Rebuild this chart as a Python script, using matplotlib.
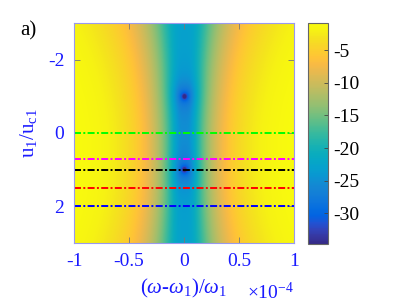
import numpy as np
import matplotlib
matplotlib.use('Agg')
import matplotlib.pyplot as plt
from matplotlib.colors import LinearSegmentedColormap

plt.rcParams['font.family'] = ['Liberation Serif', 'DejaVu Serif']
plt.rcParams['mathtext.fontset'] = 'custom'
plt.rcParams['mathtext.rm'] = 'Liberation Serif'
plt.rcParams['mathtext.it'] = 'Liberation Serif:italic'

# axis ranges (detuning in units of 1e-4, u1/uc1)
x_range = [-1, 1]
u_range = [-3, 3]
# dips of the transmission map (u positions) and model parameters
dip_u = [-1, 1]
floor_a = 0.00038
rise_a = 0.00062
strength = 0.19
# dash-dotted cut lines
cut_u = [0, 0.7, 1, 1.5, 2]
cut_colors = ['#00ff00', '#ff00ff', 'black', 'red', 'blue']
# colour limits and ticks
clim = [-34.7, -0.8]
cbar_ticks = [-30, -25, -20, -15, -10, -5]
x_ticks = [-1, -0.5, 0, 0.5, 1]
x_ticklabels = ['-1', '-0.5', '0', '0.5', '1']
y_ticks = [-2, 0, 2]
y_ticklabels = ['-2', '0', '2']

parula_pts = [
    (0.2081, 0.1663, 0.5292), (0.2123, 0.2138, 0.6270), (0.1959, 0.2645, 0.7279),
    (0.1253, 0.3242, 0.8303), (0.0117, 0.3875, 0.8820), (0.0165, 0.4266, 0.8786),
    (0.0498, 0.4586, 0.8641), (0.0723, 0.4887, 0.8467), (0.0793, 0.5200, 0.8312),
    (0.0641, 0.5570, 0.8240), (0.0343, 0.5966, 0.8199), (0.0239, 0.6287, 0.8038),
    (0.0228, 0.6535, 0.7768), (0.0384, 0.6743, 0.7436), (0.0843, 0.6928, 0.7062),
    (0.1453, 0.7098, 0.6646), (0.2178, 0.7250, 0.6193), (0.3022, 0.7376, 0.5712),
    (0.3953, 0.7459, 0.5244), (0.4871, 0.7491, 0.4840), (0.5709, 0.7485, 0.4494),
    (0.6473, 0.7456, 0.4188), (0.7184, 0.7411, 0.3905), (0.7858, 0.7356, 0.3633),
    (0.8507, 0.7299, 0.3360), (0.9139, 0.7258, 0.3063), (0.9739, 0.7314, 0.2666),
    (0.9990, 0.7653, 0.2164), (0.9880, 0.8066, 0.1794), (0.9697, 0.8481, 0.1475),
    (0.9589, 0.8949, 0.1132), (0.9661, 0.9514, 0.0755), (0.9763, 0.9831, 0.0538)]
parula = LinearSegmentedColormap.from_list('parula', parula_pts)

# transmission map (dB)
x = np.linspace(x_range[0], x_range[1], 401)
u = np.linspace(u_range[0], u_range[1], 401)
X, U = np.meshgrid(x, u)
q = (U**2 - 1)**2
a = floor_a + rise_a * q / (q + 1.86)
s = 1 + 0.035 * (U - 0.5)**2
Xs = np.abs(X / s)
T = -10 * np.log10(1 + strength / (Xs**3 + a))
for ud in dip_u:
    r2 = (X / 0.035)**2 + ((U - ud) / 0.12)**2
    T += 10 * np.log10((r2 + 0.01) / (r2 + 1))

fig = plt.figure(figsize=(4.09, 3.07), dpi=100)
ax = fig.add_axes([0.181, 0.2085, 0.538, 0.7166])
im = ax.imshow(T, extent=[x_range[0], x_range[1], u_range[1], u_range[0]],
               cmap=parula, vmin=clim[0], vmax=clim[1], aspect='auto',
               interpolation='bilinear')
for yc, c in zip(cut_u, cut_colors):
    ax.plot(x_range, [yc, yc], color=c, lw=1.4, ls=(0, (3.6, 1.2, 1, 1.2)))
ax.set_xlim(x_range)
ax.set_ylim(u_range[1], u_range[0])

blue = '#1a1aff'
ax.set_xticks(x_ticks)
ax.set_xticklabels(x_ticklabels)
ax.set_yticks(y_ticks)
ax.set_yticklabels(y_ticklabels)
ax.tick_params(direction='in', length=4, width=0.6, colors='#777777',
               labelcolor=blue, labelsize=14, top=True, right=True, pad=7)
for sp in ax.spines.values():
    sp.set_color('#9999ee')
    sp.set_linewidth(0.8)

ax.set_xlabel(r'($\omega$-$\omega_1$)/$\omega_1$', color=blue, fontsize=15, labelpad=5)
ax.set_ylabel(r'u$_1$/u$_{\rm c1}$', color=blue, fontsize=15, labelpad=6)
ax.text(1.0, -0.225, r'$\times$10$^{-4}$', transform=ax.transAxes, color=blue,
        fontsize=14, ha='right', va='center')
fig.text(0.05, 0.9, 'a)', fontsize=15, color='black', ha='left', va='center')

cax = fig.add_axes([0.754, 0.2052, 0.049, 0.721])
cb = fig.colorbar(im, cax=cax, ticks=cbar_ticks)
cb.ax.set_yticklabels([str(t) for t in cbar_ticks])
cb.ax.tick_params(direction='in', length=3, width=0.6, colors='#444444',
                  labelcolor='black', labelsize=14)
cb.outline.set_edgecolor('#666666')
cb.outline.set_linewidth(0.8)

fig.savefig('out.png', dpi=100)
